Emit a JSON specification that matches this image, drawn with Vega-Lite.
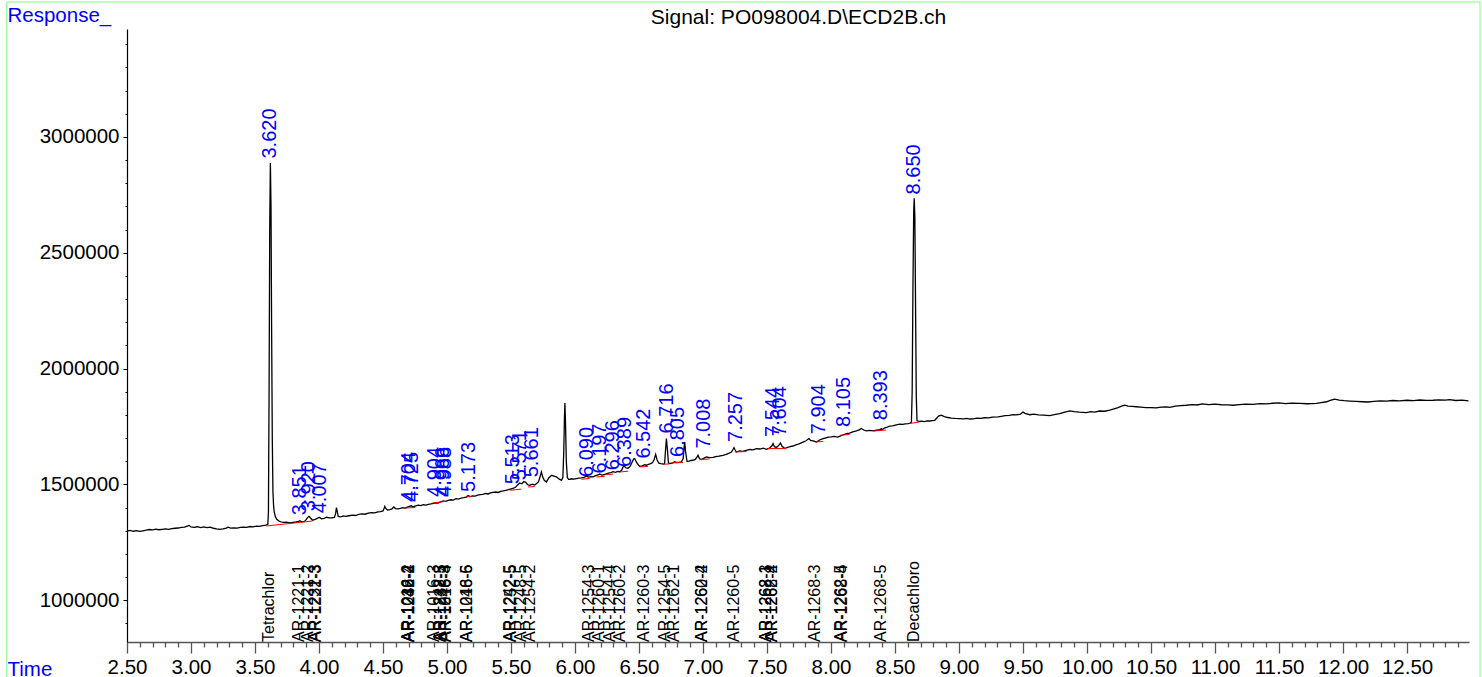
{
  "$schema": "https://vega.github.io/schema/vega-lite/v6.json",
  "width": 1342,
  "height": 613,
  "autosize": {"type": "none"},
  "padding": {"left": 127, "top": 29, "right": 13, "bottom": 35},
  "background": "white",
  "config": {"view": {"stroke": null}, "font": "Liberation Sans"},
  "resolve": {"axis": {"x": "independent", "y": "independent"}},
  "datasets": {
    "trace": [
      {"t":2.500,"resp":1299000},{"t":2.525,"resp":1301500},{"t":2.550,"resp":1298000},{"t":2.575,"resp":1300500},
      {"t":2.600,"resp":1297500},{"t":2.625,"resp":1300000},{"t":2.650,"resp":1302500},{"t":2.675,"resp":1305500},
      {"t":2.700,"resp":1304000},{"t":2.725,"resp":1307000},{"t":2.750,"resp":1304500},{"t":2.775,"resp":1306500},
      {"t":2.800,"resp":1308500},{"t":2.825,"resp":1306000},{"t":2.850,"resp":1309500},{"t":2.875,"resp":1311000},
      {"t":2.900,"resp":1312000},{"t":2.925,"resp":1314500},{"t":2.950,"resp":1316000},{"t":2.970,"resp":1320500},
      {"t":2.985,"resp":1323000},{"t":3.000,"resp":1316500},{"t":3.025,"resp":1315000},{"t":3.050,"resp":1317500},
      {"t":3.075,"resp":1314000},{"t":3.100,"resp":1316500},{"t":3.125,"resp":1313500},{"t":3.150,"resp":1315500},
      {"t":3.175,"resp":1311000},{"t":3.200,"resp":1308000},{"t":3.225,"resp":1306000},{"t":3.250,"resp":1308500},
      {"t":3.275,"resp":1312000},{"t":3.290,"resp":1315500},{"t":3.310,"resp":1311500},{"t":3.335,"resp":1313000},
      {"t":3.360,"resp":1311500},{"t":3.385,"resp":1314500},{"t":3.410,"resp":1316000},{"t":3.435,"resp":1315000},
      {"t":3.460,"resp":1318500},{"t":3.485,"resp":1317000},{"t":3.510,"resp":1320500},{"t":3.535,"resp":1319000},
      {"t":3.560,"resp":1322500},{"t":3.585,"resp":1324500},{"t":3.600,"resp":1328000},{"t":3.605,"resp":1380000},
      {"t":3.610,"resp":1900000},{"t":3.615,"resp":2600000},{"t":3.620,"resp":2888000},{"t":3.625,"resp":2700000},
      {"t":3.630,"resp":2150000},{"t":3.635,"resp":1700000},{"t":3.640,"resp":1470000},{"t":3.645,"resp":1410000},
      {"t":3.650,"resp":1382000},{"t":3.660,"resp":1360000},{"t":3.670,"resp":1350000},{"t":3.685,"resp":1343000},
      {"t":3.700,"resp":1339000},{"t":3.720,"resp":1336000},{"t":3.745,"resp":1337500},{"t":3.770,"resp":1334500},
      {"t":3.795,"resp":1336500},{"t":3.820,"resp":1338000},{"t":3.840,"resp":1341000},{"t":3.850,"resp":1343500},
      {"t":3.865,"resp":1339000},{"t":3.885,"resp":1340500},{"t":3.900,"resp":1348000},{"t":3.912,"resp":1358000},
      {"t":3.922,"resp":1362500},{"t":3.935,"resp":1354000},{"t":3.950,"resp":1346000},{"t":3.970,"resp":1349500},
      {"t":3.990,"resp":1355000},{"t":4.005,"resp":1357500},{"t":4.020,"resp":1351500},{"t":4.040,"resp":1354000},
      {"t":4.060,"resp":1358500},{"t":4.080,"resp":1356000},{"t":4.100,"resp":1355500},{"t":4.120,"resp":1358000},
      {"t":4.130,"resp":1375000},{"t":4.136,"resp":1400500},{"t":4.142,"resp":1385000},{"t":4.150,"resp":1362000},
      {"t":4.170,"resp":1360500},{"t":4.190,"resp":1364500},{"t":4.210,"resp":1362000},{"t":4.235,"resp":1365000},
      {"t":4.260,"resp":1367500},{"t":4.285,"resp":1366000},{"t":4.310,"resp":1370500},{"t":4.335,"resp":1373000},
      {"t":4.360,"resp":1371500},{"t":4.385,"resp":1376500},{"t":4.410,"resp":1378000},{"t":4.435,"resp":1377000},
      {"t":4.460,"resp":1381500},{"t":4.480,"resp":1383000},{"t":4.500,"resp":1386000},{"t":4.508,"resp":1396000},
      {"t":4.514,"resp":1405500},{"t":4.522,"resp":1396500},{"t":4.535,"resp":1389500},{"t":4.555,"resp":1391000},
      {"t":4.570,"resp":1394500},{"t":4.584,"resp":1403000},{"t":4.597,"resp":1396000},{"t":4.615,"resp":1394500},
      {"t":4.635,"resp":1396500},{"t":4.655,"resp":1399500},{"t":4.675,"resp":1398000},{"t":4.690,"resp":1402000},
      {"t":4.705,"resp":1405500},{"t":4.720,"resp":1408000},{"t":4.735,"resp":1403500},{"t":4.755,"resp":1407500},
      {"t":4.775,"resp":1410500},{"t":4.795,"resp":1409000},{"t":4.815,"resp":1412500},{"t":4.835,"resp":1411000},
      {"t":4.855,"resp":1414500},{"t":4.875,"resp":1416000},{"t":4.895,"resp":1418500},{"t":4.910,"resp":1421000},
      {"t":4.930,"resp":1419500},{"t":4.950,"resp":1424500},{"t":4.970,"resp":1428500},{"t":4.990,"resp":1427000},
      {"t":5.010,"resp":1431500},{"t":5.030,"resp":1434000},{"t":5.050,"resp":1432500},{"t":5.070,"resp":1438500},
      {"t":5.090,"resp":1437000},{"t":5.110,"resp":1441500},{"t":5.130,"resp":1443000},{"t":5.150,"resp":1445500},
      {"t":5.165,"resp":1452500},{"t":5.180,"resp":1447500},{"t":5.200,"resp":1451000},{"t":5.220,"resp":1449500},
      {"t":5.240,"resp":1454000},{"t":5.260,"resp":1456500},{"t":5.280,"resp":1457500},{"t":5.300,"resp":1461000},
      {"t":5.320,"resp":1459000},{"t":5.340,"resp":1463500},{"t":5.360,"resp":1466000},{"t":5.380,"resp":1467500},
      {"t":5.400,"resp":1465500},{"t":5.420,"resp":1470500},{"t":5.440,"resp":1472000},{"t":5.460,"resp":1475000},
      {"t":5.480,"resp":1477500},{"t":5.500,"resp":1481000},{"t":5.520,"resp":1484500},{"t":5.535,"resp":1488000},
      {"t":5.550,"resp":1497000},{"t":5.568,"resp":1506500},{"t":5.585,"resp":1503000},{"t":5.600,"resp":1512500},
      {"t":5.615,"resp":1509500},{"t":5.630,"resp":1499000},{"t":5.646,"resp":1496500},{"t":5.665,"resp":1501500},
      {"t":5.685,"resp":1498000},{"t":5.700,"resp":1504000},{"t":5.715,"resp":1512000},{"t":5.728,"resp":1535000},
      {"t":5.737,"resp":1554000},{"t":5.748,"resp":1532000},{"t":5.760,"resp":1518000},{"t":5.776,"resp":1511000},
      {"t":5.795,"resp":1528000},{"t":5.816,"resp":1539500},{"t":5.835,"resp":1536000},{"t":5.855,"resp":1532500},
      {"t":5.875,"resp":1524000},{"t":5.894,"resp":1518000},{"t":5.905,"resp":1530000},{"t":5.912,"resp":1640000},
      {"t":5.918,"resp":1800000},{"t":5.921,"resp":1852000},{"t":5.926,"resp":1760000},{"t":5.932,"resp":1600000},
      {"t":5.940,"resp":1530000},{"t":5.950,"resp":1522000},{"t":5.960,"resp":1522500},{"t":5.975,"resp":1524500},
      {"t":5.990,"resp":1523000},{"t":6.010,"resp":1525500},{"t":6.030,"resp":1527000},{"t":6.050,"resp":1528500},
      {"t":6.070,"resp":1531000},{"t":6.089,"resp":1536000},{"t":6.105,"resp":1532000},{"t":6.125,"resp":1533500},
      {"t":6.141,"resp":1532500},{"t":6.160,"resp":1538000},{"t":6.180,"resp":1541000},{"t":6.193,"resp":1545000},
      {"t":6.210,"resp":1540500},{"t":6.230,"resp":1543000},{"t":6.245,"resp":1546000},{"t":6.260,"resp":1548500},
      {"t":6.280,"resp":1551000},{"t":6.297,"resp":1555000},{"t":6.315,"resp":1552500},{"t":6.335,"resp":1556000},
      {"t":6.350,"resp":1555000},{"t":6.365,"resp":1562000},{"t":6.375,"resp":1575000},{"t":6.383,"resp":1583000},
      {"t":6.395,"resp":1572000},{"t":6.414,"resp":1570000},{"t":6.430,"resp":1578000},{"t":6.445,"resp":1595000},
      {"t":6.458,"resp":1610000},{"t":6.466,"resp":1612000},{"t":6.480,"resp":1596000},{"t":6.495,"resp":1584000},
      {"t":6.505,"resp":1578500},{"t":6.525,"resp":1580500},{"t":6.545,"resp":1585000},{"t":6.558,"resp":1583000},
      {"t":6.575,"resp":1587000},{"t":6.590,"resp":1590000},{"t":6.605,"resp":1594000},{"t":6.618,"resp":1608000},
      {"t":6.630,"resp":1630000},{"t":6.642,"resp":1604000},{"t":6.655,"resp":1592000},{"t":6.670,"resp":1589500},
      {"t":6.690,"resp":1588000},{"t":6.700,"resp":1590000},{"t":6.706,"resp":1640000},{"t":6.714,"resp":1698000},
      {"t":6.722,"resp":1650000},{"t":6.730,"resp":1592000},{"t":6.745,"resp":1591000},{"t":6.765,"resp":1593500},
      {"t":6.779,"resp":1598000},{"t":6.795,"resp":1594500},{"t":6.815,"resp":1596000},{"t":6.831,"resp":1597500},
      {"t":6.845,"resp":1612000},{"t":6.852,"resp":1660000},{"t":6.857,"resp":1683500},{"t":6.864,"resp":1640000},
      {"t":6.875,"resp":1600000},{"t":6.890,"resp":1601000},{"t":6.905,"resp":1603500},{"t":6.922,"resp":1604500},
      {"t":6.940,"resp":1608000},{"t":6.955,"resp":1620000},{"t":6.961,"resp":1626000},{"t":6.972,"resp":1612000},
      {"t":6.987,"resp":1607500},{"t":7.005,"resp":1612500},{"t":7.027,"resp":1618500},{"t":7.050,"resp":1615500},
      {"t":7.078,"resp":1616500},{"t":7.100,"resp":1620500},{"t":7.125,"resp":1622000},{"t":7.156,"resp":1626000},
      {"t":7.180,"resp":1630000},{"t":7.200,"resp":1634500},{"t":7.222,"resp":1640000},{"t":7.235,"resp":1652000},
      {"t":7.242,"resp":1659000},{"t":7.250,"resp":1650000},{"t":7.261,"resp":1640000},{"t":7.285,"resp":1644500},
      {"t":7.310,"resp":1643000},{"t":7.339,"resp":1647500},{"t":7.365,"resp":1651000},{"t":7.390,"resp":1649500},
      {"t":7.417,"resp":1655000},{"t":7.445,"resp":1653000},{"t":7.470,"resp":1656500},{"t":7.495,"resp":1651500},
      {"t":7.520,"resp":1657000},{"t":7.540,"resp":1668000},{"t":7.547,"resp":1676500},{"t":7.558,"resp":1663000},
      {"t":7.573,"resp":1660000},{"t":7.590,"resp":1668000},{"t":7.605,"resp":1679000},{"t":7.618,"resp":1665000},
      {"t":7.638,"resp":1655000},{"t":7.660,"resp":1660500},{"t":7.680,"resp":1663500},{"t":7.703,"resp":1666000},
      {"t":7.725,"resp":1670500},{"t":7.750,"resp":1675000},{"t":7.781,"resp":1683000},{"t":7.805,"resp":1688500},
      {"t":7.820,"resp":1695000},{"t":7.828,"resp":1698000},{"t":7.840,"resp":1690000},{"t":7.860,"resp":1688000},
      {"t":7.886,"resp":1683500},{"t":7.910,"resp":1692000},{"t":7.938,"resp":1698000},{"t":7.960,"resp":1701500},
      {"t":7.980,"resp":1704000},{"t":8.003,"resp":1705000},{"t":8.025,"resp":1707500},{"t":8.050,"resp":1704500},
      {"t":8.068,"resp":1708000},{"t":8.090,"resp":1713500},{"t":8.105,"resp":1716000},{"t":8.120,"resp":1719500},
      {"t":8.145,"resp":1722000},{"t":8.170,"resp":1726500},{"t":8.198,"resp":1731000},{"t":8.220,"resp":1735500},
      {"t":8.237,"resp":1741500},{"t":8.255,"resp":1735000},{"t":8.276,"resp":1731000},{"t":8.300,"resp":1733500},
      {"t":8.330,"resp":1731500},{"t":8.355,"resp":1734000},{"t":8.380,"resp":1736500},{"t":8.393,"resp":1740000},
      {"t":8.401,"resp":1737000},{"t":8.420,"resp":1744500},{"t":8.440,"resp":1748000},{"t":8.458,"resp":1751500},
      {"t":8.480,"resp":1753000},{"t":8.510,"resp":1757500},{"t":8.537,"resp":1760000},{"t":8.560,"resp":1759000},
      {"t":8.580,"resp":1761500},{"t":8.602,"resp":1763000},{"t":8.620,"resp":1765000},{"t":8.628,"resp":1770000},
      {"t":8.634,"resp":1900000},{"t":8.640,"resp":2350000},{"t":8.646,"resp":2680000},{"t":8.650,"resp":2735000},
      {"t":8.655,"resp":2650000},{"t":8.660,"resp":2300000},{"t":8.666,"resp":1880000},{"t":8.672,"resp":1775000},
      {"t":8.690,"resp":1772000},{"t":8.706,"resp":1773000},{"t":8.730,"resp":1771500},{"t":8.750,"resp":1774500},
      {"t":8.771,"resp":1774000},{"t":8.790,"resp":1775500},{"t":8.810,"resp":1777000},{"t":8.825,"resp":1786000},
      {"t":8.840,"resp":1795000},{"t":8.862,"resp":1799000},{"t":8.885,"resp":1793000},{"t":8.914,"resp":1789000},
      {"t":8.940,"resp":1786500},{"t":8.970,"resp":1785000},{"t":9.005,"resp":1784500},{"t":9.035,"resp":1783000},
      {"t":9.060,"resp":1785500},{"t":9.085,"resp":1782500},{"t":9.110,"resp":1783500},{"t":9.140,"resp":1786000},
      {"t":9.170,"resp":1785000},{"t":9.200,"resp":1788000},{"t":9.230,"resp":1787500},{"t":9.260,"resp":1790500},
      {"t":9.305,"resp":1791500},{"t":9.330,"resp":1794000},{"t":9.360,"resp":1797000},{"t":9.395,"resp":1798500},
      {"t":9.422,"resp":1801500},{"t":9.450,"resp":1800000},{"t":9.480,"resp":1804000},{"t":9.500,"resp":1813000},
      {"t":9.515,"resp":1807000},{"t":9.552,"resp":1801000},{"t":9.585,"resp":1803500},{"t":9.620,"resp":1800500},
      {"t":9.660,"resp":1799000},{"t":9.708,"resp":1797500},{"t":9.745,"resp":1801500},{"t":9.786,"resp":1806000},
      {"t":9.820,"resp":1811000},{"t":9.865,"resp":1817500},{"t":9.900,"resp":1814500},{"t":9.940,"resp":1812000},
      {"t":9.995,"resp":1810500},{"t":10.030,"resp":1814000},{"t":10.060,"resp":1812500},{"t":10.099,"resp":1817000},
      {"t":10.140,"resp":1816000},{"t":10.177,"resp":1820500},{"t":10.210,"resp":1826000},{"t":10.243,"resp":1832000},
      {"t":10.270,"resp":1838000},{"t":10.295,"resp":1842000},{"t":10.320,"resp":1838500},{"t":10.350,"resp":1837000},
      {"t":10.386,"resp":1835500},{"t":10.420,"resp":1834000},{"t":10.460,"resp":1831500},{"t":10.500,"resp":1832000},
      {"t":10.540,"resp":1830500},{"t":10.580,"resp":1833500},{"t":10.620,"resp":1835000},{"t":10.646,"resp":1832500},
      {"t":10.690,"resp":1838000},{"t":10.730,"resp":1840500},{"t":10.776,"resp":1842000},{"t":10.820,"resp":1844500},
      {"t":10.860,"resp":1843000},{"t":10.900,"resp":1847500},{"t":10.950,"resp":1845000},{"t":11.000,"resp":1846500},
      {"t":11.050,"resp":1844000},{"t":11.100,"resp":1843500},{"t":11.141,"resp":1842000},{"t":11.190,"resp":1845000},
      {"t":11.240,"resp":1847000},{"t":11.297,"resp":1846000},{"t":11.350,"resp":1849000},{"t":11.400,"resp":1847500},
      {"t":11.450,"resp":1850500},{"t":11.500,"resp":1852000},{"t":11.550,"resp":1849000},{"t":11.600,"resp":1851500},
      {"t":11.662,"resp":1850000},{"t":11.720,"resp":1848500},{"t":11.792,"resp":1850000},{"t":11.830,"resp":1853500},
      {"t":11.870,"resp":1857000},{"t":11.900,"resp":1863000},{"t":11.935,"resp":1868000},{"t":11.970,"resp":1864000},
      {"t":12.010,"resp":1861500},{"t":12.052,"resp":1860000},{"t":12.100,"resp":1858500},{"t":12.150,"resp":1857000},
      {"t":12.195,"resp":1856000},{"t":12.240,"resp":1859000},{"t":12.290,"resp":1860500},{"t":12.339,"resp":1860000},
      {"t":12.390,"resp":1862500},{"t":12.440,"resp":1861000},{"t":12.500,"resp":1863500},{"t":12.550,"resp":1862000},
      {"t":12.600,"resp":1864500},{"t":12.650,"resp":1863000},{"t":12.703,"resp":1863500},{"t":12.750,"resp":1865000},
      {"t":12.800,"resp":1864000},{"t":12.833,"resp":1866000},{"t":12.880,"resp":1862500},{"t":12.930,"resp":1864000},
      {"t":12.980,"resp":1860500}
    ],
    "baselines": [
      {"a":3.590,"av":1320800,"b":3.950,"bv":1342400},
      {"a":4.680,"av":1398500,"b":4.750,"bv":1400500},
      {"a":4.886,"av":1420100,"b":4.995,"bv":1427500},
      {"a":5.150,"av":1446000,"b":5.190,"bv":1448000},
      {"a":5.490,"av":1475000,"b":5.580,"bv":1480000},
      {"a":5.633,"av":1489200,"b":5.685,"bv":1491000},
      {"a":6.050,"av":1522500,"b":6.115,"bv":1526000},
      {"a":6.167,"av":1532400,"b":6.232,"bv":1535000},
      {"a":6.245,"av":1542800,"b":6.297,"bv":1545000},
      {"a":6.349,"av":1554000,"b":6.414,"bv":1557000},
      {"a":6.505,"av":1575600,"b":6.570,"bv":1578000},
      {"a":6.688,"av":1587200,"b":6.740,"bv":1588500},
      {"a":6.753,"av":1592800,"b":6.844,"bv":1595000},
      {"a":6.974,"av":1607500,"b":7.052,"bv":1610000},
      {"a":7.248,"av":1640300,"b":7.339,"bv":1642000},
      {"a":7.508,"av":1655000,"b":7.652,"bv":1655000},
      {"a":7.886,"av":1683500,"b":7.938,"bv":1686000},
      {"a":8.068,"av":1712400,"b":8.146,"bv":1716000},
      {"a":8.340,"av":1731000,"b":8.430,"bv":1735000},
      {"a":8.614,"av":1763000,"b":8.693,"bv":1770000}
    ],
    "peaks": [
      {"rt":3.620,"ly":2907000},{"rt":3.851,"ly":1367000},{"rt":3.920,"ly":1384300},{"rt":4.007,"ly":1375700},
      {"rt":4.704,"ly":1424400},{"rt":4.725,"ly":1424400},{"rt":4.904,"ly":1446000},{"rt":4.966,"ly":1446000},
      {"rt":4.988,"ly":1446000},{"rt":5.173,"ly":1467600},{"rt":5.513,"ly":1501000},{"rt":5.571,"ly":1518000},
      {"rt":5.661,"ly":1531000},{"rt":6.090,"ly":1532400},{"rt":6.197,"ly":1547100},{"rt":6.296,"ly":1561300},
      {"rt":6.389,"ly":1575600},{"rt":6.542,"ly":1611800},{"rt":6.716,"ly":1719800},{"rt":6.805,"ly":1618800},
      {"rt":7.008,"ly":1655000},{"rt":7.257,"ly":1683500},{"rt":7.544,"ly":1705100},{"rt":7.604,"ly":1708100},
      {"rt":7.904,"ly":1716800},{"rt":8.105,"ly":1748300},{"rt":8.393,"ly":1777200},{"rt":8.650,"ly":2752000}
    ],
    "compounds": [
      {"ct":3.620,"name":"Tetrachlor"},{"ct":3.849,"name":"AR-1221-1"},{"ct":3.922,"name":"AR-1221-2"},
      {"ct":3.980,"name":"AR-1232-3"},{"ct":3.982,"name":"AR-1221-3"},
      {"ct":4.706,"name":"AR-1016-2"},{"ct":4.708,"name":"AR-1242-2"},{"ct":4.710,"name":"AR-1248-2"},{"ct":4.712,"name":"AR-1232-4"},
      {"ct":4.904,"name":"AR-1016-3"},{"ct":4.956,"name":"AR-1242-3"},{"ct":4.958,"name":"AR-1232-5"},
      {"ct":4.995,"name":"AR-1248-3"},{"ct":4.997,"name":"AR-1016-4"},
      {"ct":5.164,"name":"AR-1016-5"},{"ct":5.166,"name":"AR-1248-6"},
      {"ct":5.503,"name":"AR-1242-5"},{"ct":5.505,"name":"AR-1252-5"},{"ct":5.589,"name":"AR-1248-5"},{"ct":5.659,"name":"AR-1254-2"},
      {"ct":6.115,"name":"AR-1254-3"},{"ct":6.193,"name":"AR-1260-1"},{"ct":6.284,"name":"AR-1254-4"},{"ct":6.362,"name":"AR-1260-2"},
      {"ct":6.545,"name":"AR-1260-3"},{"ct":6.714,"name":"AR-1254-5"},{"ct":6.779,"name":"AR-1262-1"},
      {"ct":7.000,"name":"AR-1260-4"},{"ct":7.002,"name":"AR-1262-2"},{"ct":7.248,"name":"AR-1260-5"},
      {"ct":7.500,"name":"AR-1268-1"},{"ct":7.502,"name":"AR-1262-3"},{"ct":7.547,"name":"AR-1268-2"},{"ct":7.549,"name":"AR-1262-4"},
      {"ct":7.886,"name":"AR-1268-3"},{"ct":8.089,"name":"AR-1262-5"},{"ct":8.091,"name":"AR-1268-4"},
      {"ct":8.401,"name":"AR-1268-5"},{"ct":8.654,"name":"Decachloro"}
    ]
  },
  "layer": [
    {
      "data": {"values": [{}]},
      "mark": {"type": "rect", "fill": null, "stroke": "#80ff80", "strokeWidth": 1, "clip": false},
      "encoding": {
        "x": {"datum": 1.5602, "type": "quantitative", "axis": null},
        "x2": {"datum": 13.0703},
        "y": {"datum": 3582500, "type": "quantitative", "axis": null},
        "y2": {"datum": 600000}
      }
    },
    {
      "data": {"name": "trace"},
      "mark": {"type": "line", "color": "#000000", "strokeWidth": 1.3, "interpolate": "linear"},
      "encoding": {
        "x": {
          "field": "t",
          "type": "quantitative",
          "scale": {"domain": [2.5, 12.984], "nice": false, "zero": false},
          "axis": {
            "orient": "bottom",
            "values": [2.5,3.0,3.5,4.0,4.5,5.0,5.5,6.0,6.5,7.0,7.5,8.0,8.5,9.0,9.5,10.0,10.5,11.0,11.5,12.0,12.5],
            "format": ".2f",
            "tickSize": 11,
            "tickColor": "#555555",
            "tickWidth": 1.3,
            "domainColor": "#555555",
            "domainWidth": 1.5,
            "grid": false,
            "labelFont": "Liberation Sans",
            "labelFontSize": 20.5,
            "labelColor": "#000000",
            "labelPadding": 4,
            "labelOverlap": false,
            "labelFlush": false,
            "labelBound": false,
            "title": "Time",
            "titleFont": "Liberation Sans",
            "titleFontSize": 20.5,
            "titleFontWeight": "normal",
            "titleColor": "#0000ff",
            "titleAngle": 0,
            "titleAlign": "left",
            "titleBaseline": "alphabetic",
            "titleX": -120,
            "titleY": 33.5
          }
        },
        "y": {
          "field": "resp",
          "type": "quantitative",
          "scale": {"domain": [820000, 3466000], "nice": false, "zero": false},
          "axis": {
            "orient": "left",
            "values": [1000000,1500000,2000000,2500000,3000000],
            "format": "d",
            "tickSize": 4,
            "tickColor": "#000000",
            "domainColor": "#000000",
            "domainWidth": 1.2,
            "grid": false,
            "labelFont": "Liberation Sans",
            "labelFontSize": 20.5,
            "labelColor": "#000000",
            "labelPadding": 4,
            "labelOverlap": false,
            "labelFlush": false,
            "labelBound": false,
            "title": "Response_",
            "titleFont": "Liberation Sans",
            "titleFontSize": 20.5,
            "titleFontWeight": "normal",
            "titleColor": "#0000ff",
            "titleAngle": 0,
            "titleAlign": "left",
            "titleBaseline": "alphabetic",
            "titleX": -120,
            "titleY": -8
          }
        }
      }
    },
    {
      "data": {"name": "baselines"},
      "mark": {"type": "rule", "color": "#ff0000", "strokeWidth": 1},
      "encoding": {
        "x": {
          "field": "a",
          "type": "quantitative",
          "axis": {
            "orient": "bottom",
            "values": [2.6,2.7,2.8,2.9,3.1,3.2,3.3,3.4,3.6,3.7,3.8,3.9,4.1,4.2,4.3,4.4,4.6,4.7,4.8,4.9,5.1,5.2,5.3,5.4,5.6,5.7,5.8,5.9,6.1,6.2,6.3,6.4,6.6,6.7,6.8,6.9,7.1,7.2,7.3,7.4,7.6,7.7,7.8,7.9,8.1,8.2,8.3,8.4,8.6,8.7,8.8,8.9,9.1,9.2,9.3,9.4,9.6,9.7,9.8,9.9,10.1,10.2,10.3,10.4,10.6,10.7,10.8,10.9,11.1,11.2,11.3,11.4,11.6,11.7,11.8,11.9,12.1,12.2,12.3,12.4,12.6,12.7,12.8,12.9],
            "labels": false,
            "domain": false,
            "grid": false,
            "tickSize": 5,
            "tickColor": "#555555",
            "tickWidth": 1.3,
            "title": null
          }
        },
        "x2": {"field": "b"},
        "y": {
          "field": "av",
          "type": "quantitative",
          "axis": {
            "orient": "left",
            "values": [900000,1100000,1200000,1300000,1400000,1600000,1700000,1800000,1900000,2100000,2200000,2300000,2400000,2600000,2700000,2800000,2900000,3100000,3200000,3300000,3400000],
            "labels": false,
            "domain": false,
            "grid": false,
            "tickSize": 2,
            "tickColor": "#000000",
            "title": null
          }
        },
        "y2": {"field": "bv"}
      }
    },
    {
      "data": {"name": "peaks"},
      "mark": {"type": "text", "angle": 270, "align": "left", "baseline": "middle", "font": "Liberation Sans", "fontSize": 20, "color": "#0000ff"},
      "encoding": {
        "x": {
          "field": "rt",
          "type": "quantitative",
          "axis": {
            "orient": "top",
            "ticks": false,
            "labels": false,
            "domain": false,
            "grid": false,
            "title": "Signal: PO098004.D\\ECD2B.ch",
            "titleFont": "Liberation Sans",
            "titleFontSize": 21,
            "titleFontWeight": "normal",
            "titleColor": "#000000",
            "titleAnchor": "middle",
            "titleBaseline": "alphabetic",
            "titleY": -5.5
          }
        },
        "y": {"field": "ly", "type": "quantitative", "axis": null},
        "text": {"field": "rt", "type": "quantitative", "format": ".3f"}
      }
    },
    {
      "data": {"name": "compounds"},
      "mark": {"type": "text", "angle": 270, "align": "left", "baseline": "middle", "font": "Liberation Sans", "fontSize": 16, "color": "#000000", "dy": -1},
      "encoding": {
        "x": {"field": "ct", "type": "quantitative", "axis": null},
        "y": {"datum": 820000, "type": "quantitative", "axis": null},
        "text": {"field": "name", "type": "nominal"}
      }
    }
  ]
}
